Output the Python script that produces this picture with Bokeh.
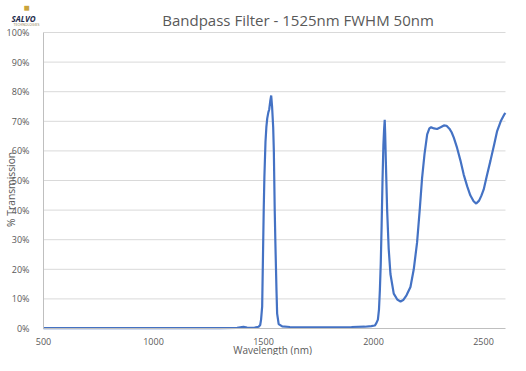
import math
from bokeh.plotting import figure
from bokeh.models import Label, FixedTicker, PrintfTickFormatter
from bokeh.embed import file_html
from bokeh.resources import INLINE

# Wavelength (nm) and % transmission
wavelength = [500, 700, 900, 1100, 1300, 1380, 1409, 1425, 1440, 1460, 1478, 1485,
              1489, 1494, 1498.6, 1501, 1504, 1509, 1513, 1517, 1522, 1526, 1531, 1535,
              1539, 1544, 1547, 1551, 1554, 1559, 1562, 1569, 1585, 1620, 1700, 1800,
              1900, 1960, 1990, 2006, 2013, 2020, 2025, 2029, 2033, 2037, 2041, 2045,
              2048, 2051, 2053, 2056, 2062, 2069, 2077, 2092, 2108, 2123, 2135, 2150,
              2168, 2183, 2198, 2210, 2221, 2232, 2244, 2254, 2262, 2275, 2289, 2305,
              2320, 2332, 2345, 2355, 2365, 2380, 2395, 2410, 2426, 2440, 2455, 2467,
              2480, 2490, 2501, 2515, 2532, 2548, 2562, 2580, 2595, 2600]
transmission = [0.1, 0.1, 0.1, 0.1, 0.15, 0.2, 0.6, 0.3, 0.2, 0.3, 0.6, 1.2,
                3.0, 7.5, 29, 40, 51, 63, 68, 71, 73, 74, 77, 78.7,
                75, 68, 60, 40, 29, 13, 5, 1.5, 0.7, 0.5, 0.4, 0.4,
                0.5, 0.6, 0.8, 1.0, 1.8, 3.0, 6.5, 13, 22, 35, 50, 62,
                67, 70.5, 66, 56.8, 40, 27, 18.4, 11.8, 9.8, 9.1, 9.6, 11.2,
                14, 20, 29, 40, 51, 59, 65.6, 67.6, 68, 67.6, 67.4, 68,
                68.6, 68.5, 67.5, 66.3, 64.5, 61, 56.8, 52, 48, 45, 43, 42.2,
                43.2, 44.8, 47, 51.5, 56.8, 62, 66.7, 70.3, 72.4, 72.8]

x_ticks = [500, 1000, 1500, 2000, 2500]
y_ticks = [0, 10, 20, 30, 40, 50, 60, 70, 80, 90, 100]
x_min, x_max = 500, 2600
y_min, y_max = 0, 100

title_text = "Bandpass Filter - 1525nm FWHM 50nm"
x_label_text = "Wavelength (nm)"
y_label_text = "% Transmission"
logo_text = "SALVO"
logo_sub_text = "TECHNOLOGIES"

FONT = "Open Sans"
GREY = "#595959"

W, H = 510, 355
# pixel placement of the data area inside the canvas
left_px, right_px, top_px, bottom_px = 43, 505, 32, 328
sx = (right_px - left_px) / (x_max - x_min)
sy = (bottom_px - top_px) / (y_max - y_min)
xr = (x_min - left_px / sx, x_min + (W - left_px) / sx)
yr = (y_max - (H - top_px) / sy, y_max + top_px / sy)

p = figure(width=W, height=H, x_range=xr, y_range=yr,
           output_backend="svg", toolbar_location=None,
           min_border=0, min_border_left=0, min_border_right=0,
           min_border_top=0, min_border_bottom=0)
p.outline_line_color = None
p.background_fill_color = "white"
p.border_fill_color = "white"
p.xgrid.grid_line_color = None
p.ygrid.grid_line_color = None

# horizontal gridlines spanning the data area only
grid_y = y_ticks[1:]
p.segment(x0=[x_min] * len(grid_y), y0=grid_y, x1=[x_max] * len(grid_y), y1=grid_y,
          line_color="#d9d9d9", line_width=1, level="underlay")

p.line(wavelength, transmission, line_color="#4472C4", line_width=2.2)

p.xaxis.fixed_location = y_min
p.yaxis.fixed_location = x_min
p.xaxis.bounds = (x_min, x_max)
p.yaxis.bounds = (y_min, y_max)
p.xaxis.ticker = FixedTicker(ticks=x_ticks)
p.yaxis.ticker = FixedTicker(ticks=y_ticks)
p.yaxis.formatter = PrintfTickFormatter(format="%d%%")
for ax in (p.xaxis, p.yaxis):
    ax.major_tick_line_color = None
    ax.minor_tick_line_color = None
    ax.axis_line_color = "#bfbfbf"
    ax.major_label_text_font = FONT
    ax.major_label_text_font_size = "9px"
    ax.major_label_text_color = GREY
p.xaxis.major_label_standoff = 3
p.yaxis.major_label_standoff = 8


def add_text(x, y, dx, dy, txt, size, color=GREY, style="normal", angle=0.0):
    p.add_layout(Label(x=x, y=y, x_offset=dx, y_offset=dy, text=txt, text_font=FONT,
                       text_font_size=size, text_font_style=style, text_color=color,
                       text_align="center", text_baseline="middle", angle=angle))


add_text(1657, y_max, 0, 13, title_text, "15px")
add_text(1541, y_min, 0, -21, x_label_text, "10px")
add_text(x_min, 47, -33, 0, y_label_text, "10.3px", angle=math.pi / 2)
# logo
add_text(x_min, y_max, -20, 14, logo_text, "8px", color="#1c2a4a", style="bold italic")
add_text(x_min, y_max, -17, 26, "\u25a0", "10px", color="#c9a43c")
add_text(x_min, y_max, -17, 8, logo_sub_text, "3.5px", color="#8a7a4a")

open("out.html", "w").write(file_html(p, INLINE))
